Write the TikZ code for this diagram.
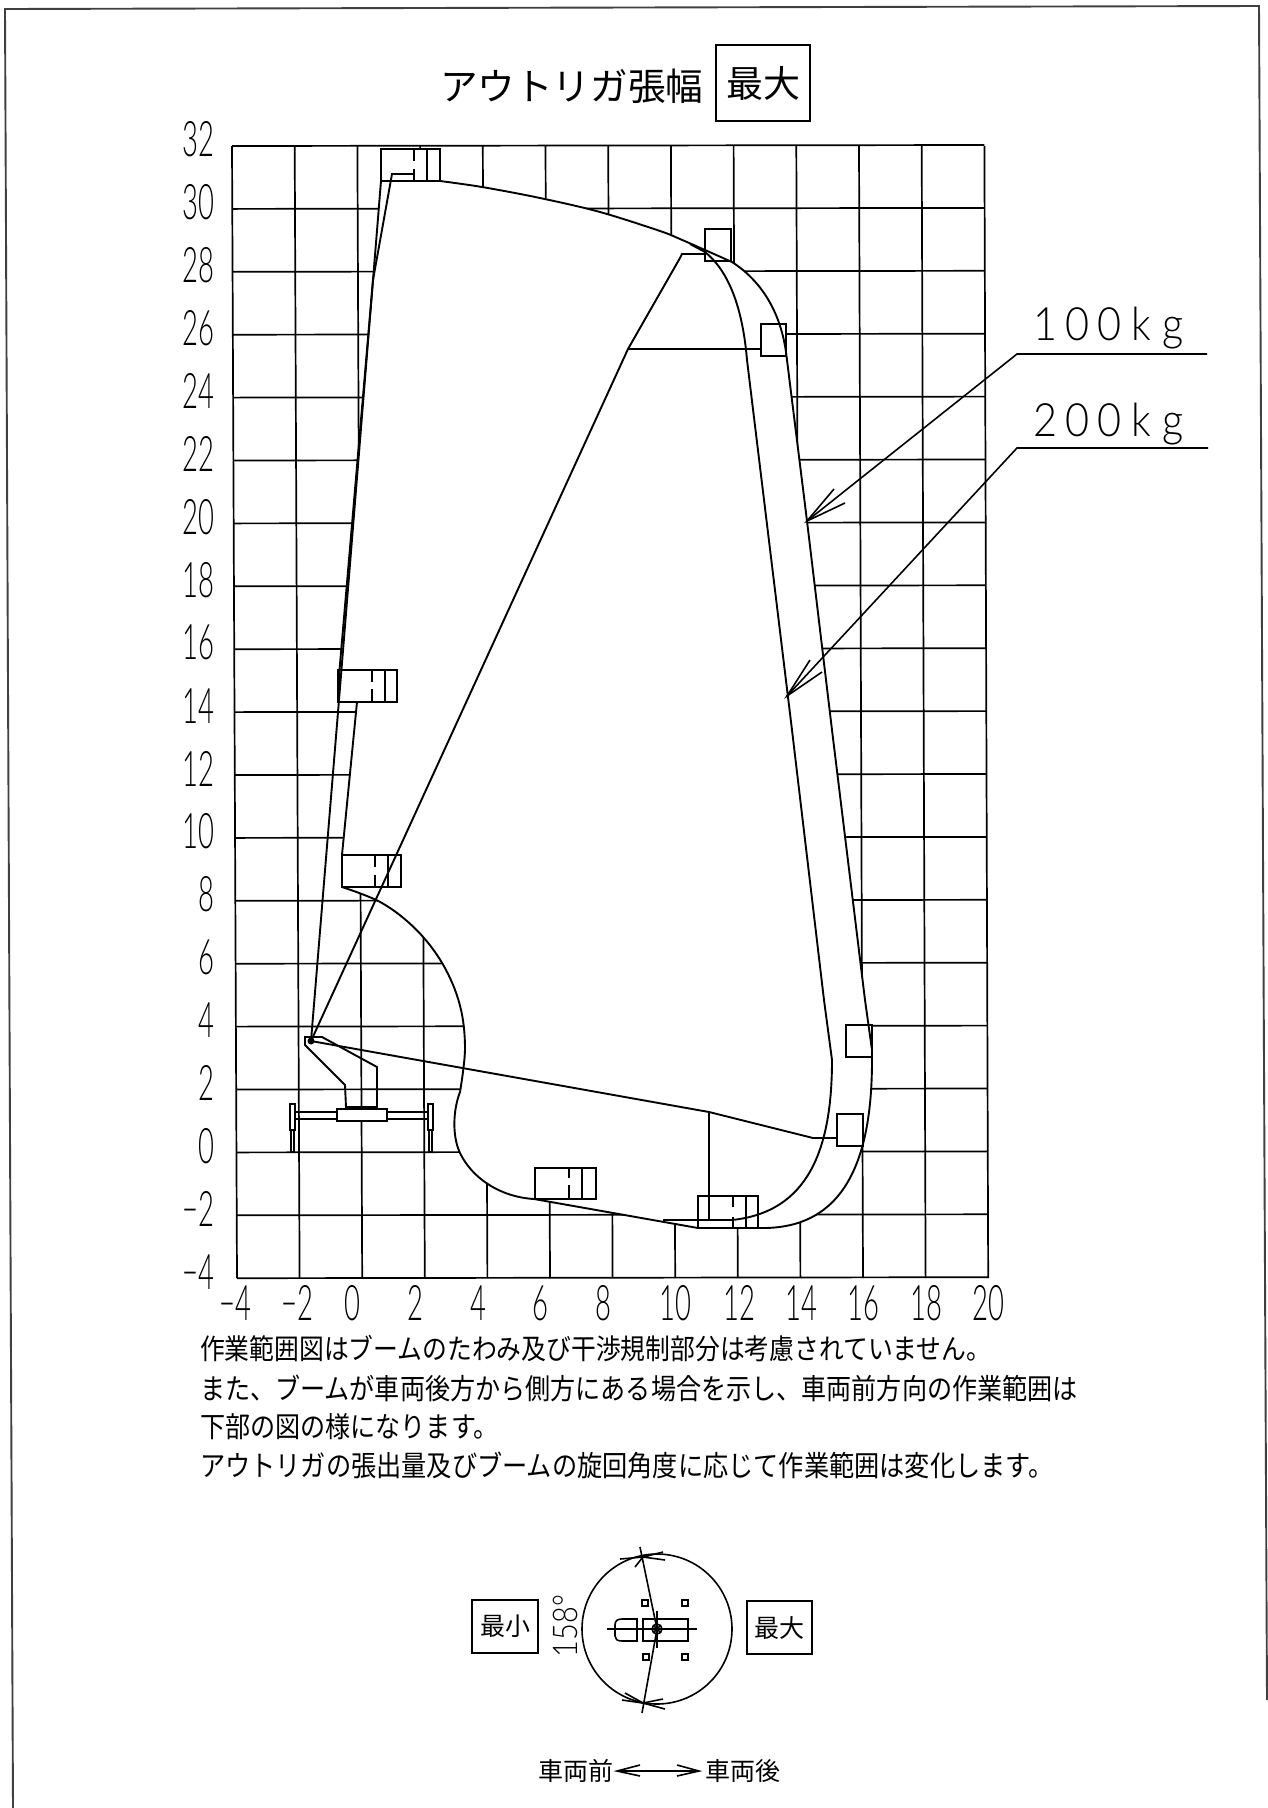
\documentclass[tikz,border=0pt]{standalone}
\usepackage{fontspec}
\usepackage{graphicx}
\setmainfont{Liberation Sans}
\newfontfamily\jp{Noto Sans CJK JP}
\newfontfamily\dig{Lato Light}
\newcommand\jps[1]{\fontsize{#1}{#1}\selectfont\jp}
\newcommand\noteln[1]{\scalebox{1}[1.14]{\jps{25.1}#1}}
\newcommand\axnum[1]{\scalebox{.56}[1]{\fontsize{49}{49}\selectfont\dig #1}}
\newcommand\kglab[5]{\fontsize{46}{46}\selectfont\dig\scalebox{.9}[1]{#1}\hspace{8pt}\scalebox{.9}[1]{#2}\hspace{8pt}\scalebox{.9}[1]{#3}\hspace{10pt}\scalebox{.9}[1]{#4}\hspace{12pt}\scalebox{.9}[1]{#5}}
% bucket: x1,y1,x2,y2, x of the broken rail, gap y1, gap y2, x of the solid rail
\newcommand\bucket[8]{%
  \filldraw[ln,fill=white] (#1,#2) rectangle (#3,#4);
  \draw[ln] (#5,#2) -- (#5,#6) (#5,#7) -- (#5,#4) (#8,#2) -- (#8,#4);}
\tikzset{
  ln/.style={draw=black,line width=1.9pt,line join=miter},
  gridln/.style={draw=black,line width=1.7pt},
  thin1/.style={draw=black,line width=1.6pt},
  txt/.style={inner sep=0pt,outer sep=0pt},
  tagbox/.style={draw=black,line width=1.8pt,fill=none}
}
\begin{document}
\begin{tikzpicture}[x=1pt,y=-1pt]
\useasboundingbox (0,0) rectangle (1268,1808);
\fill[white] (0,0) rectangle (1268,1808);
% sheet frame
\draw[ln,black!75] (13,1808) -- (5,9) -- (1259,6) -- (1267,1700);
% grid
\foreach \i in {0,...,12}{
  \draw[gridln] ({232+62.7*\i},146) -- ({237+62.6*\i},1278);}
\foreach \j in {0,...,18}{
  \draw[gridln] ({232+0.0044*62.9*\j},{146+62.9*\j}) -- ({984.4+0.0032*62.9*\j},{145+62.9*\j});}
% working envelope blanks the grid
\def\outerpath{
  plot[smooth,tension=.55] coordinates {(440,181)(482,187)(540,198)(600,212)(660,231)(680,239)(705,250)(732,262)}
  .. controls (760,280) and (780,310) .. (786,352)
  -- (807,521) -- (832,730) -- (865,1000) -- (872,1050)
  -- (872,1060) .. controls (872,1150) and (850,1228) .. (763,1228)
  -- (698,1228) -- (534,1199)
  .. controls (500,1197) and (472,1178) .. (460,1153)
  .. controls (452,1136) and (453,1110) .. (460,1092)
  -- plot[smooth,tension=.6] coordinates {(460,1092)(465,1048)(459.8,1004.8)(443,964.5)(416.6,930)(382,903)(342,887)}
  -- (342,855) -- (357,702) -- (338,702) -- (339.5,670) -- (373,280) -- (381,181) -- cycle}
\fill[white] \outerpath;
% baskets
\bucket{381}{149}{440}{181}{414}{161}{169}{427}
\bucket{338}{670}{397}{702}{372}{682}{689}{385}
\bucket{342}{855}{401}{887}{375}{867}{875}{388}
\bucket{535}{1168}{596}{1199}{569}{1178}{1185}{582}
\bucket{698}{1196}{758}{1228}{733}{1207}{1217}{746}
\filldraw[ln,fill=white] (705,229) rectangle (731,261);
\filldraw[ln,fill=white] (761,324) rectangle (786,356);
\filldraw[ln,fill=white] (846,1025) rectangle (872,1057);
\filldraw[ln,fill=white] (837,1114) rectangle (863,1146);
% envelopes
\draw[ln] \outerpath;
\draw[ln] (690,244) -- (705,252) .. controls (725,268) and (742,300) .. (747,360)
  -- (792,730) -- (824,1000) -- (832,1060)
  .. controls (832,1150) and (808,1212) .. (732,1220)
  -- (663,1220);
% boom positions
\coordinate (pivot) at (311,1041);
\draw[ln] (pivot) -- (339,700) -- (373,280) -- (392,174) -- (414,174);
\draw[ln] (pivot) -- (628,349) -- (680,258) -- (682,254) -- (705,254);
\draw[ln] (628,349) -- (761,349);
\draw[ln] (pivot) -- (709,1112) -- (813,1138) -- (837,1138);
\draw[ln] (709,1112) -- (709,1220);
% truck
\draw[ln] (305,1037) -- (322,1037) -- (377,1067) -- (377,1107) -- (346,1107) -- (345,1085) -- (305,1045) -- cycle;
\draw[ln] (348,1108) -- (375,1108);
\filldraw[ln,fill=white] (337,1109) rectangle (387,1121);
\draw[ln] (295,1112) -- (337,1112) (295,1119) -- (337,1119) (387,1112) -- (428,1112) (387,1119) -- (428,1119);
\filldraw[ln,fill=white] (290,1104) rectangle (295,1130);
\filldraw[ln,fill=white] (291,1130) rectangle (294,1152);
\filldraw[ln,fill=white] (428,1104) rectangle (433,1130);
\filldraw[ln,fill=white] (429,1130) rectangle (432,1152);
\fill (pivot) circle (3.5);
% y axis labels
\foreach \v/\n in {32/a,30/b,28/c,26/d,24/e,22/f,20/g,18/h,16/i,14/j,12/k,10/l,8/m,6/n,4/o,2/p,0/q}{
  \node[txt,anchor=east] (y\n) at (214,{139.5+(32-\v)/2*62.9}) {\axnum{\v}};}
\node[txt,anchor=east] (yr) at (214,1208.8) {\axnum{−2}};
\node[txt,anchor=east] (ys) at (214,1271.7) {\axnum{−4}};
% x axis labels
\foreach \p/\t/\n in {235/−4/a,297.5/−2/b,352/0/c,415/2/d,478/4/e,540/6/f,603/8/g,675/10/h,739/12/i,801/14/j,863/16/k,926/18/l,988/20/m}{
  \node[txt] (x\n) at (\p,1303) {\axnum{\t}};}
% loads
\node[txt,anchor=west] (loadA) at (1033,328) {\kglab{1}{0}{0}{k}{g}};
\node[txt,anchor=west] (loadB) at (1033,424) {\kglab{2}{0}{0}{k}{g}};
\coordinate (endA) at (1207,354);
\coordinate (endB) at (1208,448);
\coordinate (tipA) at (807,521);
\coordinate (tipB) at (787,696);
\draw[thin1] (endA) -- (1017,354) -- (tipA);
\draw[thin1] (834,489) -- (tipA) -- (845,503);
\draw[thin1] (endB) -- (1017,448) -- (tipB);
\draw[thin1] (810,660) -- (tipB) -- (822,672);
% title
\node[txt,anchor=west] (title) at (440,86) {\jps{37.6}アウトリガ張幅};
\node[tagbox,minimum width=94pt,minimum height=76pt,inner sep=0pt] (maxT) at (763,83) {\jps{37}最大};
% notes
\node[txt,anchor=west] (n1) at (200,1349) {\scalebox{1}[1.14]{\jps{24.8}作業範囲図はブームのたわみ及び干渉規制部分は考慮されていません。}};
\node[txt,anchor=west] (n2) at (200,1388) {\noteln{また、ブームが車両後方から側方にある場合を示し、車両前方向の作業範囲は}};
\node[txt,anchor=west] (n3) at (200,1427) {\noteln{下部の図の様になります。}};
\node[txt,anchor=west] (n4) at (200,1465) {\scalebox{1}[1.14]{\jps{25.2}アウトリガの張出量及びブームの旋回角度に応じて作業範囲は変化します。}};
% slewing diagram
\coordinate (ctr) at (657,1629);
\draw[thin1] (ctr) circle (75);
\draw[thin1] (607,1629) -- (697,1629);
\draw[thin1] (643,1619) rectangle (688,1641);
\draw[thin1] (637,1619) -- (622,1619) .. controls (617,1619) and (615,1621) .. (615,1625) -- (615,1636) .. controls (615,1639) and (617,1641) .. (622,1641) -- (637,1641) -- cycle;
\draw[thin1] (657,1611) -- (657,1648);
\draw[thin1] (ctr) circle (5);
\draw[thin1] (653.5,1625.5) -- (660.5,1632.5) (653.5,1632.5) -- (660.5,1625.5);
\foreach \a/\b in {645/1603,685/1603,646/1657,685/1657}{
  \draw[line width=1.2pt] (\a-3,\b-3) rectangle (\a+3,\b+3);}
\draw[thin1] (640,1547) -- (ctr) -- (642,1713);
\draw[thin1] (620,1559) -- (643,1557) -- (635,1567);
\draw[thin1] (663,1552) -- (643,1557) -- (665,1560);
\draw[thin1] (625,1693) -- (643,1703) -- (622,1700);
\draw[thin1] (663,1699) -- (643,1703) -- (665,1709);
\node[txt,rotate=90] (ang) at (565,1626) {\scalebox{.85}[1]{\fontsize{34}{34}\selectfont\dig 158°}};
\node[tagbox,minimum width=66pt,minimum height=53pt,inner sep=0pt] (minB) at (505,1626.5) {\jps{25}最小};
\node[tagbox,minimum width=65pt,minimum height=53pt,inner sep=0pt] (maxB) at (779.5,1627.5) {\jps{25}最大};
% direction
\node[txt,anchor=east] (front) at (613,1771) {\jps{25}車両前};
\node[txt,anchor=west] (rear) at (705,1771) {\jps{25}車両後};
\draw[thin1] (front.east) ++(4,0) coordinate (fa) -- ([xshift=-6pt]rear.west) coordinate (ra);
\draw[thin1] (640,1765) -- (fa) -- (640,1776);
\draw[thin1] (677,1765) -- (ra) -- (677,1776);
\end{tikzpicture}
\end{document}
